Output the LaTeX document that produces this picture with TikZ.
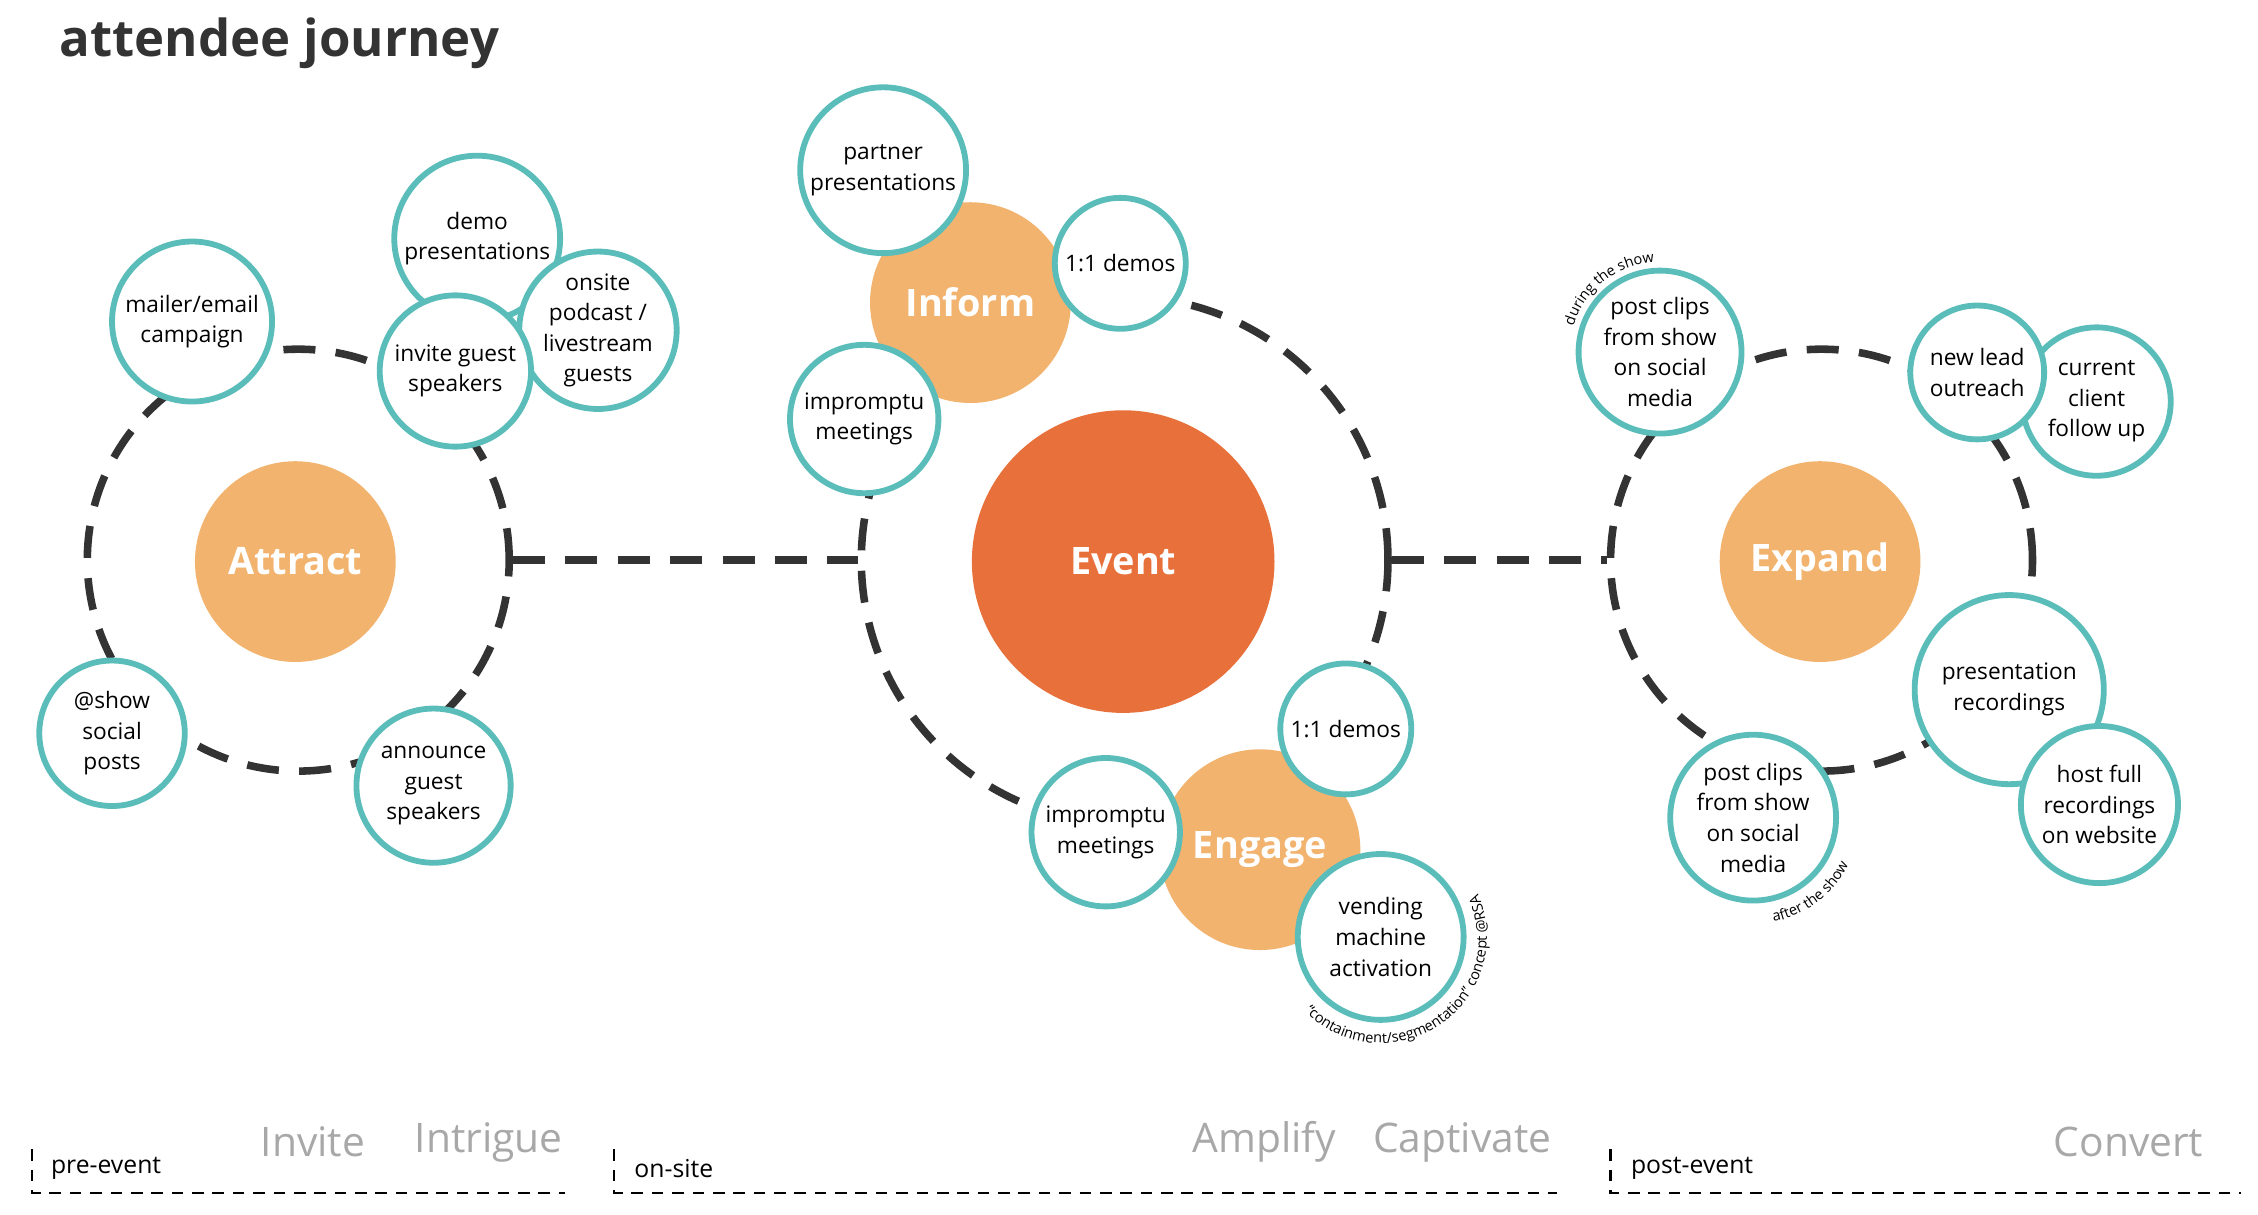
\documentclass[tikz,border=0pt]{standalone}
\usepackage{fontspec}
\setmainfont{Open Sans}
\usetikzlibrary{decorations.text}
\definecolor{teal}{HTML}{5BBDBA}
\definecolor{lorange}{HTML}{F2B36E}
\definecolor{dorange}{HTML}{E8703A}
\definecolor{dk}{HTML}{333333}
\definecolor{gr}{HTML}{A8A8A8}
\begin{document}
\begin{tikzpicture}[x=0.5pt,y=-0.5pt,
  ring/.style={draw=dk,line width=2.6pt,dash pattern=on 11pt off 7pt},
  link/.style={draw=dk,line width=2.6pt,dash pattern=on 11pt off 7pt},
  phase/.style={draw=black,line width=0.8pt,dash pattern=on 4pt off 3pt},
  hub/.style={circle,fill=lorange,inner sep=0,text=white,font=\fontsize{13}{15}\selectfont\bfseries},
  bub/.style={circle,draw=teal,fill=white,line width=2pt,inner sep=0,align=center,font=\fontsize{7.8}{10.5}\selectfont},
  stage/.style={text=gr,font=\fontsize{14}{16}\selectfont},
  plabel/.style={anchor=west,font=\fontsize{8.5}{10}\selectfont},
  curv/.style={decorate,decoration={text along path,text align=center,text format delimiters={|}{|}}}]
\useasboundingbox (0,0) rectangle (1552,834.5);
\node[anchor=west,text=dk,font=\fontsize{17.5}{20}\selectfont\bfseries] (title) at (34,30) {attendee journey};
% rings
\node[circle,ring,minimum size=145pt,inner sep=0] (r1) at (205,385) {};
\node[circle,ring,minimum size=181pt,inner sep=0] (r2) at (773,385) {};
\node[circle,ring,minimum size=145pt,inner sep=0] (r3) at (1252,385) {};
\draw[link] (r1.east) -- (r2.west);
\draw[link] (r2.east) -- (r3.west);
% hubs
\node[hub,minimum size=69pt] (attract) at (203,386) {Attract};
\node[hub,fill=dorange,minimum size=104pt] (event) at (772,386) {Event};
\node[hub,minimum size=69pt] (inform) at (667,208) {Inform};
\node[hub,minimum size=69pt] (engage) at (866,584) {Engage};
\node[hub,minimum size=69pt] (expand) at (1251,386) {Expand};
% left bubbles
\node[bub,minimum size=55pt] (mailer) at (132,221) {mailer/email\\campaign};
\node[bub,minimum size=57pt] (demo) at (328,164) {demo\\presentations};
\node[bub,minimum size=53pt] (podcast) at (411,227) {onsite\\podcast /\\livestream\\guests};
\node[bub,minimum size=52pt] (invite) at (313,255) {invite guest\\speakers};
\node[bub,minimum size=50pt] (social) at (77,504) {@show\\social\\posts};
\node[bub,minimum size=53pt] (announce) at (298,540) {announce\\guest\\speakers};
% middle bubbles
\node[bub,minimum size=57pt] (partner) at (607,117) {partner\\presentations};
\node[bub,minimum size=45pt] (demos1) at (770,181) {1:1 demos};
\node[bub,minimum size=51pt] (imp1) at (594,288) {impromptu\\meetings};
\node[bub,minimum size=45pt] (demos2) at (925,501) {1:1 demos};
\node[bub,minimum size=51pt] (imp2) at (760,572) {impromptu\\meetings};
\node[bub,minimum size=57pt] (vending) at (949,644) {vending\\machine\\activation};
% right bubbles
\node[bub,minimum size=56pt] (clips1) at (1141,242) {post clips\\from show\\on social\\media};
\node[bub,minimum size=51pt] (client) at (1441,276) {current\\client\\follow up};
\node[bub,minimum size=46pt] (lead) at (1359,256) {new lead\\outreach};
\node[bub,minimum size=65pt] (recs) at (1381,474) {presentation\\recordings};
\node[bub,minimum size=54pt] (host) at (1443,553) {host full\\recordings\\on website};
\node[bub,minimum size=57pt] (clips2) at (1205,562) {post clips\\from show\\on social\\media};
% curved notes
\begin{scope}[y=0.5pt]
\path[curv,decoration={text={|\fontsize{5}{5}\selectfont|during the show}}] (clips1) ++(165:62) arc[start angle=165,end angle=92,radius=62];
\path[curv,decoration={text={|\fontsize{5}{5}\selectfont|after the show}}] (clips2) ++(-85:73) arc[start angle=-85,end angle=-20,radius=73];
\path[curv,decoration={text={|\fontsize{5}{5}\selectfont|“containment/segmentation” concept @RSA}}] (vending) ++(-140:73) arc[start angle=-140,end angle=28,radius=73];
\end{scope}
% stages
\node[stage] (s1) at (215,785) {Invite};
\node[stage] (s2) at (336,785) {Intrigue};
\node[stage] (s3) at (869,785) {Amplify};
\node[stage] (s4) at (1005,785) {Captivate};
\node[stage] (s5) at (1463,785) {Convert};
\node[plabel] (p1) at (28,803) {pre-event};
\node[plabel] (p2) at (429,803) {on-site};
\node[plabel] (p3) at (1114,803) {post-event};
\draw[phase] (22,790) -- (22,820) -- (388,820);
\draw[phase] (422,790) -- (422,820) -- (1070,820);
\draw[phase] (1107,790) -- (1107,820) -- (1540,820);
\end{tikzpicture}
\end{document}
